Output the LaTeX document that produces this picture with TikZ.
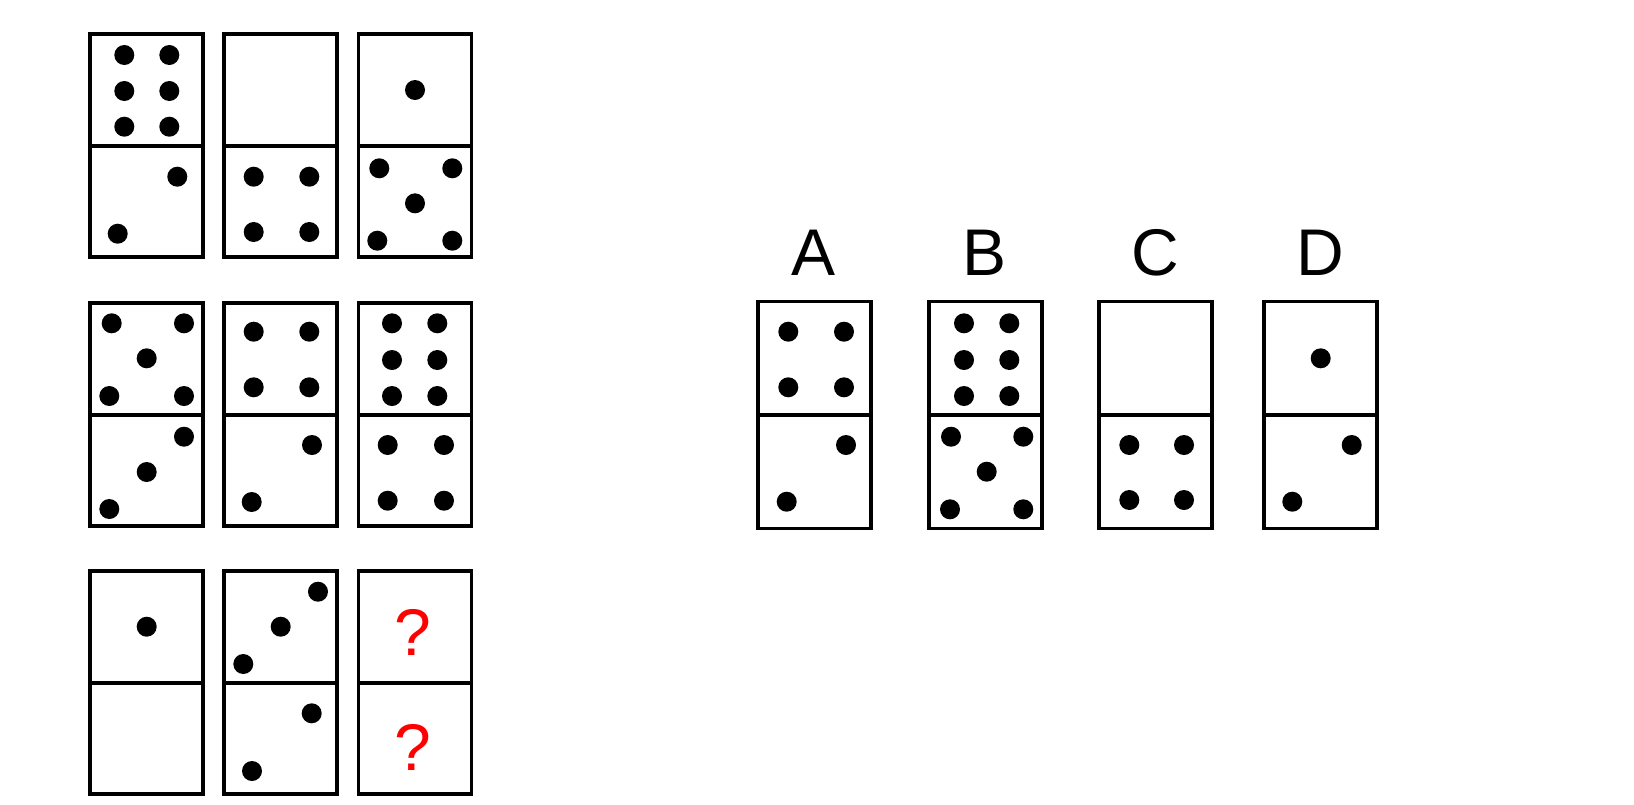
\documentclass[tikz,border=0pt]{standalone}
\usepackage{fontspec}
\setmainfont{Liberation Sans}

\begin{document}
\begin{tikzpicture}[x=0.5pt,y=-0.5pt,
  tile/.style={line width=1.6pt,black},
  pip/.style={fill=black},
  lbl/.style={font=\fontsize{33}{40}\selectfont,anchor=base}]
  \useasboundingbox (0,0) rectangle (1634,804);

  % 3x3 grid of tiles
  \foreach \x/\y in {90/34,224/34,358.5/34,90/303,224/303,358.5/303,90/571,224/571,358.5/571}
    \draw[tile] (\x,\y) rectangle ++(113,223) (\x,{\y+112}) -- ++(113,0);

  % row 1
  \foreach \p in {(124.3,55),(169.3,55),(124.3,91),(169.3,91),(124.3,126.7),(169.3,126.7),
                  (177.3,176.7),(117.7,233.7),
                  (253.7,176.7),(309.3,176.7),(253.7,232),(309.3,232),
                  (415,90),(379.3,168.3),(452.3,168.3),(415,203.3),(377.3,240.7),(452.3,240.7)}
    \fill[pip] \p circle[radius=5pt];

  % row 2
  \foreach \p in {(111.7,323.3),(184,323.3),(146.7,358.3),(109.3,396),(184,396),
                  (184,436.7),(146.7,472),(109.3,509),
                  (253.7,331.7),(309.3,331.7),(253.7,387.3),(309.3,387.3),(312,445),(251.7,502),
                  (392,323.3),(437.3,323.3),(392,360),(437.3,360),(392,396),(437.3,396),
                  (387.7,445),(444,445),(387.7,500.7),(444,500.7)}
    \fill[pip] \p circle[radius=5pt];

  % row 3
  \foreach \p in {(146.7,626.7),(318,591.7),(280.7,626.7),(243.3,664),(311.7,713.3),(252,771)}
    \fill[pip] \p circle[radius=5pt];
  \node[lbl,red] (q1) at (413,655) {?};
  \node[lbl,red] (q2) at (413,770) {?};

  % answer tiles
  \foreach \x/\n in {758/A,929/B,1099/C,1264/D}{
    \draw[tile] (\x,301.5) rectangle ++(113,227) (\x,415) -- ++(113,0);
    \node[lbl] (opt\n) at ({\x+56},275) {\n};
  }
  \foreach \p in {(788.3,331.7),(844,331.7),(788.3,387.3),(844,387.3),(846,445),(786.7,501.7),
                  (964,323.3),(1009.3,323.3),(964,360),(1009.3,360),(964,396),(1009.3,396),
                  (951,436.7),(1023.3,436.7),(986.7,471.7),(950,509.3),(1023.3,509.3),
                  (1129.3,445),(1184,445),(1129.3,500),(1184,500),
                  (1320.7,358.3),(1351.7,445),(1292.3,501.7)}
    \fill[pip] \p circle[radius=5pt];
\end{tikzpicture}
\end{document}
